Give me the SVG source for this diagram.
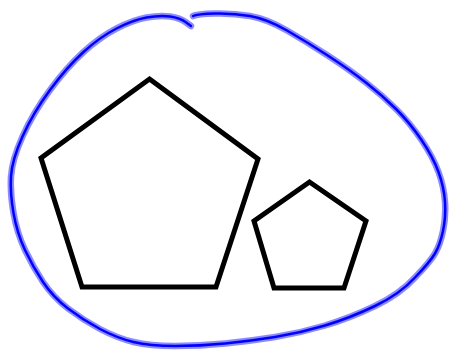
<svg xmlns="http://www.w3.org/2000/svg" width="449" height="350" viewBox="0 0 449 350">
<style>
.shape{fill:none;stroke:#000;stroke-width:5;stroke-linejoin:miter}
.halo{fill:none;stroke:#0000ff;stroke-opacity:0.45;stroke-width:6.5;stroke-linecap:round;stroke-linejoin:round}
.core{fill:none;stroke:#0000ff;stroke-width:2.5;stroke-linecap:round;stroke-linejoin:round}
</style>
<rect width="449" height="350" fill="#fff"/>
<defs>
<path id="loop" d="M193,16 Q197,14 215,13.5 Q233,13 250,16 Q267,19 287,30.5 Q307,42 328.5,56 Q350,70 366.5,83 Q383,96 396.5,109.5 Q410,123 421.5,140 Q433,157 438.5,172 Q444,187 445,202 Q446,217 443,231 Q440,245 435,253.5 Q430,262 415,277.5 Q400,294 375,306 Q350,318 325,325.5 Q300,333 275,337 Q250,341 225,343.5 Q200,346 175,346 Q150,346 133.5,342 Q117,338 100,329 Q83,320 68,308.5 Q53,297 43,282 Q33,267 25,250 Q17,233 13.5,213 Q10,193 11,176.5 Q12,160 22.5,136.5 Q33,113 50,90 Q67,67 83.5,52 Q100,37 116.5,28.5 Q133,20 146.5,17.5 Q160,15 170,16.5 Q180,18 185.5,22 L191,26"/>
</defs>
<g id="lasso">
<use href="#loop" class="halo"/>
<use href="#loop" class="core"/>
</g>
<g id="pentagon-large">
<polygon class="shape" points="149.5,79 258,159 216,287 82,287 41,158"/>
</g>
<g id="pentagon-small">
<polygon class="shape" points="309.5,182 366,221 344,288 274,288 254,221"/>
</g>
</svg>
